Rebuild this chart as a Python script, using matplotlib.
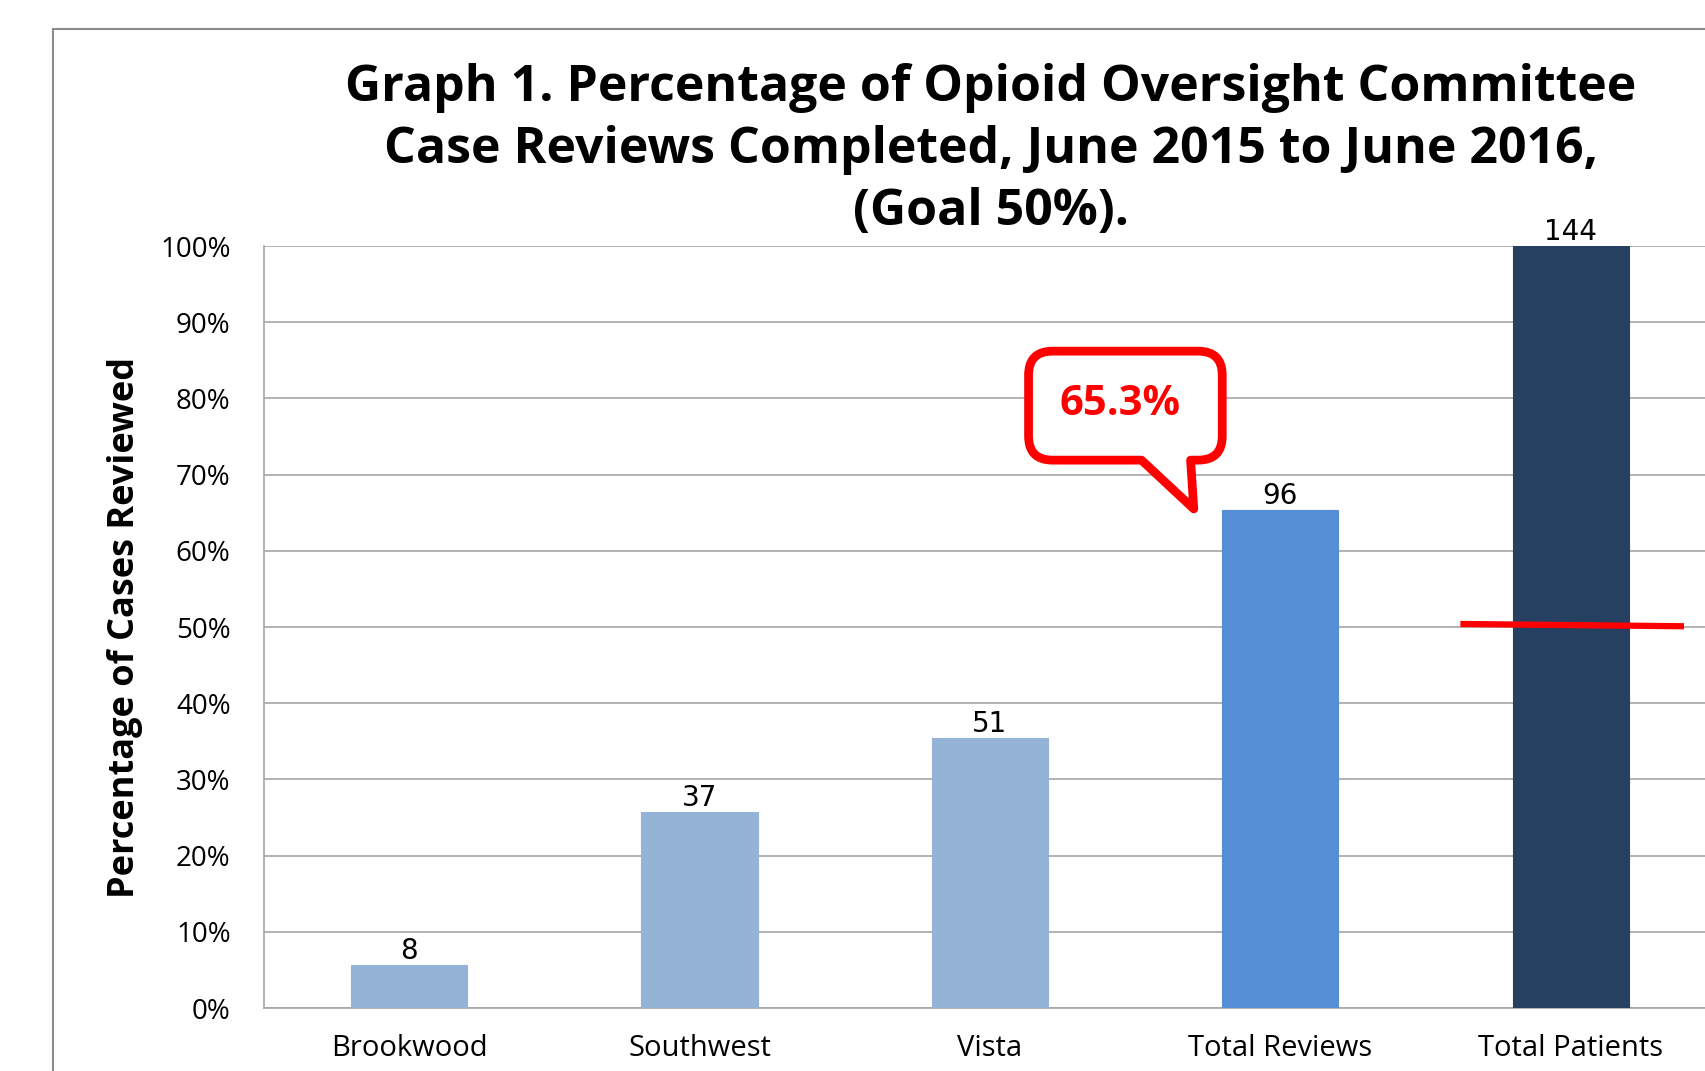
import numpy as np
import matplotlib
matplotlib.use('Agg')
import matplotlib.pyplot as plt
from matplotlib.path import Path
from matplotlib.patches import PathPatch, Rectangle

plt.rcParams['font.family'] = ['Open Sans', 'DejaVu Sans']

# data
categories = ['Brookwood', 'Southwest', 'Vista', 'Total Reviews', 'Total Patients']
counts = [8, 37, 51, 96, 144]
pct_reviewed = [5.6, 25.7, 35.4, 65.3, 100.0]
bar_colors = ['#95B3D7', '#95B3D7', '#95B3D7', '#558ED5', '#254061']
goal_pct = 50
callout_text = '65.3%'
yticks = np.arange(0, 101, 10)
title_lines = ['Graph 1. Percentage of Opioid Oversight Committee',
               'Case Reviews Completed, June 2015 to June 2016,',
               '(Goal 50%).']

fig = plt.figure(figsize=(17.05, 10.71), dpi=100)
ax = fig.add_axes([0.1548, 0.0588, 0.8516, 0.7115])

# outer chart frame (cropped on right / bottom)
fig.patches.append(Rectangle((53 / 1705, -0.05), 1.2, 1 - 29 / 1071 + 0.05,
                             transform=fig.transFigure, fill=False,
                             ec='#8C8C8C', lw=1.5))

x = np.arange(len(categories))
ax.bar(x, pct_reviewed, width=0.4, color=bar_colors, zorder=3,
       edgecolor=bar_colors, linewidth=0.8)

for xi, v, c in zip(x, pct_reviewed, counts):
    ax.annotate(str(c), (xi, v), xytext=(0, 0), textcoords='offset points',
                ha='center', va='bottom', fontsize=20, color='black',
                family='DejaVu Sans')

ax.set_xlim(-0.5, 4.5)
ax.set_ylim(0, 100)
ax.set_yticks(yticks)
ax.set_yticklabels([f'{t}%' for t in yticks], fontsize=20)
ax.set_xticks(x)
ax.set_xticklabels(categories, fontsize=21)
ax.tick_params(axis='both', length=0)
ax.tick_params(axis='y', pad=24)
ax.tick_params(axis='x', pad=19)
ax.grid(axis='y', color='#A6A6A6', lw=1.2, zorder=0)
for s in ['top', 'right']:
    ax.spines[s].set_visible(False)
for s in ['left', 'bottom']:
    ax.spines[s].set_color('#A6A6A6')
    ax.spines[s].set_linewidth(1.2)

ax.set_ylabel('Percentage of Cases Reviewed', fontsize=26, fontweight='bold',
              labelpad=12)

# title, one text per line
for line, ty in zip(title_lines, [0.9176, 0.8597, 0.8018]):
    fig.text(0.581, ty, line, ha='center', va='center', fontsize=36,
             fontweight='bold')

# goal line across the Total Patients bar
ax.plot([3.62, 4.39], [goal_pct + 0.4, goal_pct + 0.1], color='red',
        lw=4.5, solid_capstyle='butt', zorder=5)

# speech-bubble callout pointing to the Total Reviews bar
ext = ax.get_window_extent()
px_x = ext.width / 5.0
px_y = ext.height / 100.0
r = 24
rx, ry = r / px_x, r / px_y
L, R, T, B = 2.133, 2.800, 86.2, 71.9
x0, x1 = 2.522, 2.691
tip = (2.702, pct_reviewed[3] + 0.2)
verts = [(L + rx, T), (R - rx, T), (R, T), (R, T - ry), (R, B + ry),
         (R, B), (R - rx, B), (x1, B), tip, (x0, B), (L + rx, B),
         (L, B), (L, B + ry), (L, T - ry), (L, T), (L + rx, T), (L + rx, T)]
codes = [Path.MOVETO, Path.LINETO, Path.CURVE3, Path.CURVE3, Path.LINETO,
         Path.CURVE3, Path.CURVE3, Path.LINETO, Path.LINETO, Path.LINETO,
         Path.LINETO, Path.CURVE3, Path.CURVE3, Path.LINETO, Path.CURVE3,
         Path.CURVE3, Path.CLOSEPOLY]
bubble = PathPatch(Path(verts, codes), fc='white', ec='red', lw=6.3,
                   joinstyle='round', zorder=6, clip_on=False)
ax.add_patch(bubble)
ax.text((L + R) / 2 - 0.02, 79.2, callout_text, color='red', fontsize=30,
        fontweight='bold', ha='center', va='center', zorder=7)

fig.savefig('out.png', dpi=100)
